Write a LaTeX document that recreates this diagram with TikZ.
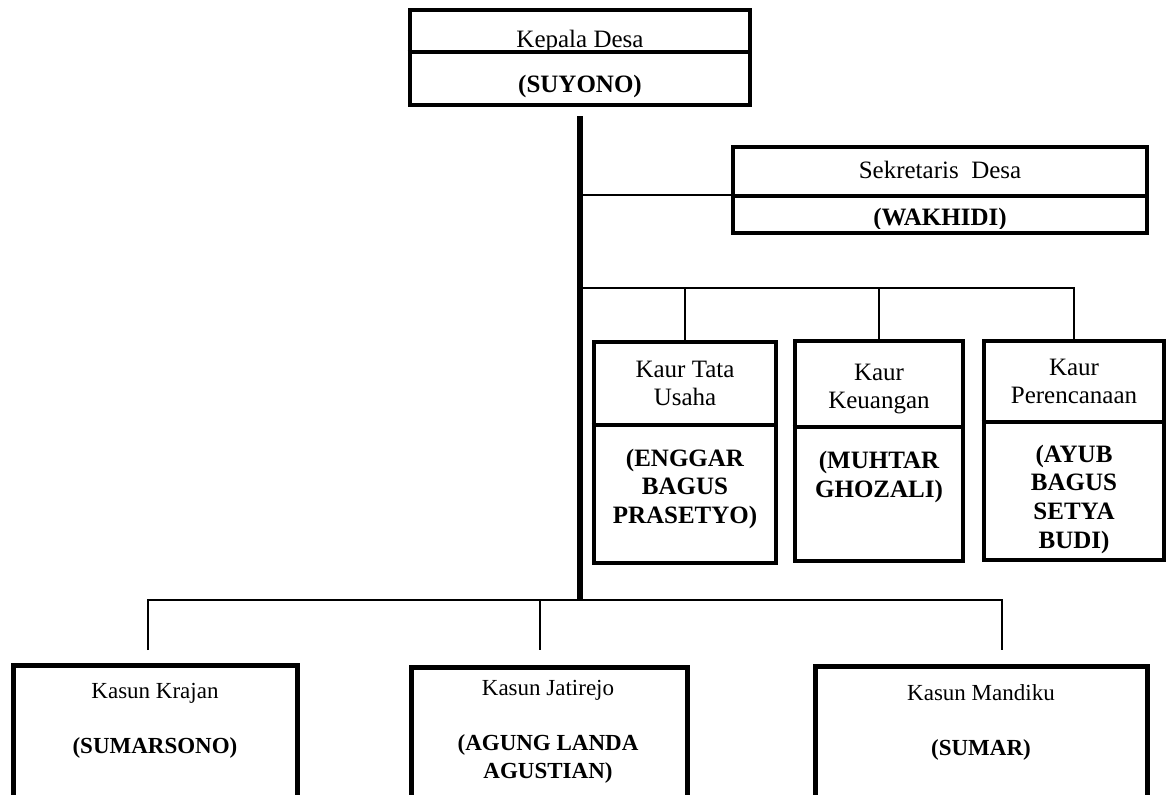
\documentclass[tikz,border=0pt]{standalone}
\usepackage{fontspec}
\setmainfont{Liberation Serif}
\usetikzlibrary{fit}
\begin{document}
\begin{tikzpicture}[x=0.75pt,y=-0.75pt,
  box/.style={draw=black, line width=3.5pt, inner sep=0pt, fit={#1}},
  bigbox/.style={draw=black, line width=3.75pt, inner sep=0pt, fit={#1}},
  divider/.style={line width=3.2pt},
  trunk/.style={line width=4pt},
  conn/.style={line width=1.8pt},
  txt/.style={inner sep=0pt, anchor=base, font=\fontsize{18.75pt}{21pt}\selectfont},
  btxt/.style={inner sep=0pt, anchor=base, font=\fontsize{18.75pt}{21pt}\selectfont\bfseries},
  stxt/.style={inner sep=0pt, anchor=base, font=\fontsize{17.25pt}{20pt}\selectfont},
  sbtxt/.style={inner sep=0pt, anchor=base, font=\fontsize{17.25pt}{20pt}\selectfont\bfseries}]
\useasboundingbox (0,0) rectangle (1167,794);
\fill[white] (0,0) rectangle (1167,794);
\clip (0,0) rectangle (1167,794);

% Kepala Desa
\node[box={(410,10)(750,105)}] (kades) {};
\draw[divider] (kades.west |- 0,52) -- (kades.east |- 0,52);
\node[txt] (kades-t) at (580,47) {Kepala Desa};
\node[btxt] (kades-n) at (580,92) {(SUYONO)};

% Sekretaris Desa
\node[box={(733,147)(1147,233)}] (sekdes) {};
\draw[divider] (sekdes.west |- 0,196) -- (sekdes.east |- 0,196);
\node[txt] (sekdes-t) at (940,178) {Sekretaris\ \ Desa};
\begin{scope}
  \clip (735,198) rectangle (1145,228);
  \node[btxt] (sekdes-n) at (940,225) {(WAKHIDI)};
\end{scope}

% Kaur boxes
\node[box={(594,342)(776,563)}] (tu) {};
\draw[divider] (tu.west |- 0,425) -- (tu.east |- 0,425);
\node[txt] (tu-a) at (685,377) {Kaur Tata};
\node[txt] (tu-b) at (685,405) {Usaha};
\node[btxt] (tu-c) at (685,466) {(ENGGAR};
\node[btxt] (tu-d) at (685,494) {BAGUS};
\node[btxt] (tu-e) at (685,523) {PRASETYO)};

\node[box={(795,341)(963,561)}] (keu) {};
\draw[divider] (keu.west |- 0,427) -- (keu.east |- 0,427);
\node[txt] (keu-a) at (879,380) {Kaur};
\node[txt] (keu-b) at (879,408) {Keuangan};
\node[btxt] (keu-c) at (879,468) {(MUHTAR};
\node[btxt] (keu-d) at (879,497) {GHOZALI)};

\node[box={(984,341)(1164,560)}] (per) {};
\draw[divider] (per.west |- 0,422) -- (per.east |- 0,422);
\node[txt] (per-a) at (1074,375) {Kaur};
\node[txt] (per-b) at (1074,403) {Perencanaan};
\node[btxt] (per-c) at (1074,462) {(AYUB};
\node[btxt] (per-d) at (1074,490) {BAGUS};
\node[btxt] (per-e) at (1074,519) {SETYA};
\node[btxt] (per-f) at (1074,548) {BUDI)};

% Kasun boxes
\node[bigbox={(13,665)(297,840)}] (kra) {};
\node[stxt] (kra-t) at (155,698) {Kasun Krajan};
\node[sbtxt] (kra-n) at (155,753) {(SUMARSONO)};

\node[bigbox={(411,667)(687,840)}] (jat) {};
\node[stxt] (jat-t) at (548,695) {Kasun Jatirejo};
\node[sbtxt] (jat-n) at (548,750) {(AGUNG LANDA};
\node[sbtxt] (jat-m) at (548,778) {AGUSTIAN)};

\node[bigbox={(815,666)(1147,840)}] (man) {};
\node[stxt] (man-t) at (981,700) {Kasun Mandiku};
\node[sbtxt] (man-n) at (981,755) {(SUMAR)};

% connectors
\coordinate (trunktop) at (580,116);
\coordinate (trunkbot) at (580,600);
\coordinate (js) at (580,195);
\coordinate (jk) at (580,288);
\coordinate (b1) at (148,600);
\coordinate (b2) at (540,600);
\coordinate (b3) at (1002,600);
\coordinate (d1) at (148,650);
\coordinate (d2) at (540,650);
\coordinate (d3) at (1002,650);

\draw[conn] (js) -- (sekdes.west |- js);
\draw[conn] (jk) -- (per.north |- jk) -- (per.north);
\draw[conn] (tu.north |- jk) -- (tu.north);
\draw[conn] (keu.north |- jk) -- (keu.north);
\draw[conn] (d1) -- (b1) -- (b3) -- (d3);
\draw[conn] (b2) -- (d2);
\draw[trunk] (trunktop) -- (trunkbot);
\end{tikzpicture}
\end{document}
